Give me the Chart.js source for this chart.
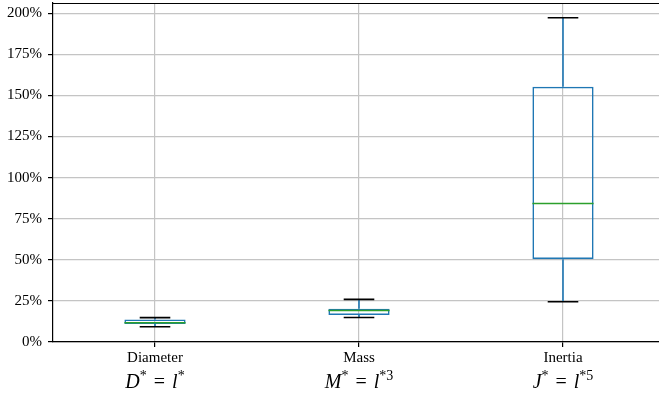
<!DOCTYPE html>
<html>
<head>
<meta charset="utf-8">
<script src="https://cdn.jsdelivr.net/npm/chart.js@4"></script>
<style>
  html, body { margin: 0; padding: 0; background: #fff; overflow: hidden; }
  #wrap { width: 667px; height: 397px; }
</style>
</head>
<body>
<div id="wrap"><canvas id="chart"></canvas></div>
<script>
// relative deviation of each scaled quantity, in percent
const categories = ["Diameter", "Mass", "Inertia"];
const whiskerLow = [9.3, 14.9, 24.5];
const quartile1 = [10.9, 16.4, 50.4];
const medians = [11.7, 19.2, 84.2];
const quartile3 = [13.7, 20.2, 155.3];
const whiskerHigh = [14.8, 25.9, 197.2];
const yTicks = [0, 25, 50, 75, 100, 125, 150, 175, 200];

// second label line: scaling law, [text, italic, superscript]
const laws = [
  [["D", 1, 0], ["*", 0, 1], [" = ", 0, 0], ["l", 1, 0], ["*", 0, 1]],
  [["M", 1, 0], ["*", 0, 1], [" = ", 0, 0], ["l", 1, 0], ["*3", 0, 1]],
  [["J", 1, 0], ["*", 0, 1], [" = ", 0, 0], ["l", 1, 0], ["*5", 0, 1]],
];

const BLUE = "#1f77b4";
const GREEN = "#2ca02c";
const SERIF = "'Liberation Serif', 'DejaVu Serif', serif";

Chart.defaults.color = "#000";
Chart.defaults.font.family = SERIF;

const boxParts = {
  id: "boxParts",
  afterDatasetsDraw(chart) {
    const { ctx, scales: { x, y } } = chart;
    const meta = chart.getDatasetMeta(0);
    ctx.save();
    categories.forEach((c, i) => {
      const bar = meta.data[i];
      const cx = x.getPixelForValue(i);
      const half = bar.width / 2;
      // whiskers
      ctx.strokeStyle = BLUE;
      ctx.lineWidth = 1.6;
      ctx.beginPath();
      ctx.moveTo(cx, y.getPixelForValue(quartile3[i]));
      ctx.lineTo(cx, y.getPixelForValue(whiskerHigh[i]));
      ctx.moveTo(cx, y.getPixelForValue(quartile1[i]));
      ctx.lineTo(cx, y.getPixelForValue(whiskerLow[i]));
      ctx.stroke();
      // caps
      ctx.strokeStyle = "#000";
      ctx.beginPath();
      [whiskerHigh[i], whiskerLow[i]].forEach(v => {
        const py = y.getPixelForValue(v);
        ctx.moveTo(cx - half / 2, py);
        ctx.lineTo(cx + half / 2, py);
      });
      ctx.stroke();
      // median
      ctx.strokeStyle = GREEN;
      ctx.beginPath();
      const my = y.getPixelForValue(medians[i]);
      ctx.moveTo(cx - half, my);
      ctx.lineTo(cx + half, my);
      ctx.stroke();
    });
    // top spine
    const a = chart.chartArea;
    ctx.strokeStyle = "#000";
    ctx.lineWidth = 1.2;
    ctx.beginPath();
    ctx.moveTo(a.left, a.top + 0.5);
    ctx.lineTo(a.right, a.top + 0.5);
    ctx.stroke();
    ctx.restore();
  },
  afterDraw(chart) {
    const { ctx, scales: { x } } = chart;
    ctx.save();
    ctx.fillStyle = "#000";
    ctx.textBaseline = "alphabetic";
    const base = 388;
    laws.forEach((parts, i) => {
      const fontOf = p => (p[1] ? "italic " : "") + (p[2] ? "14px " : "20px ") + SERIF;
      let w = 0;
      parts.forEach(p => { ctx.font = fontOf(p); w += ctx.measureText(p[0]).width + (p[0] === " = " ? 4 : 0); });
      let px = x.getPixelForValue(i) - w / 2;
      parts.forEach(p => {
        ctx.font = fontOf(p);
        const extra = p[0] === " = " ? 2 : 0;
        ctx.fillText(p[0], px + extra, p[2] ? base - 8 : base);
        px += ctx.measureText(p[0]).width + extra * 2;
      });
    });
    ctx.restore();
  }
};

new Chart(document.getElementById("chart"), {
  type: "bar",
  data: {
    labels: categories,
    datasets: [{
      data: quartile1.map((q, i) => [q, quartile3[i]]),
      backgroundColor: "rgba(0,0,0,0)",
      borderColor: BLUE,
      borderWidth: 1.6,
      borderSkipped: false,
      barPercentage: 0.3,
      categoryPercentage: 1,
    }],
  },
  options: {
    responsive: true,
    maintainAspectRatio: false,
    animation: false,
    layout: { padding: { top: 3, right: 2, left: 0, bottom: 0 } },
    plugins: { legend: { display: false }, tooltip: { enabled: false } },
    scales: {
      x: {
        offset: true,
        grid: { offset: false, color: "#c4c4c4", lineWidth: 1.2, tickColor: "#000", tickLength: 5 },
        border: { color: "#000", width: 1.2 },
        ticks: { font: { size: 15 }, padding: 2, maxRotation: 0 },
        afterFit: s => { s.height = 55; s.paddingLeft = 0; s.paddingRight = 0; },
      },
      y: {
        min: 0,
        max: 206.2,
        afterBuildTicks: s => { s.ticks = yTicks.map(v => ({ value: v })); },
        grid: { color: "#c4c4c4", lineWidth: 1.2, tickColor: "#000", tickLength: 5 },
        border: { color: "#000", width: 1.2 },
        ticks: { font: { size: 15 }, padding: 6, callback: v => v + "%" },
        afterFit: s => { s.width = 53; s.paddingTop = 0; s.paddingBottom = 0; },
      },
    },
  },
  plugins: [boxParts],
});
</script>
</body>
</html>
